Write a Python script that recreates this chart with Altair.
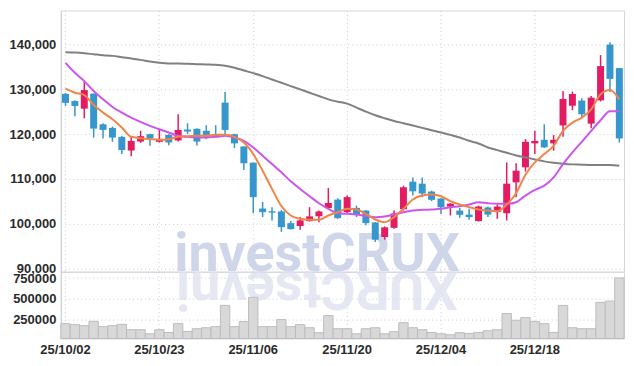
import altair as alt
import pandas as pd

# ---------------- data ----------------
dates = ["25/10/02", "25/10/10", "25/10/13", "25/10/14", "25/10/15", "25/10/16", "25/10/17",
         "25/10/20", "25/10/21", "25/10/22", "25/10/23", "25/10/24", "25/10/27", "25/10/28",
         "25/10/29", "25/10/30", "25/10/31", "25/11/03", "25/11/04", "25/11/05", "25/11/06",
         "25/11/07", "25/11/10", "25/11/11", "25/11/12", "25/11/13", "25/11/14", "25/11/17",
         "25/11/18", "25/11/19", "25/11/20", "25/11/21", "25/11/24", "25/11/25", "25/11/26",
         "25/11/27", "25/11/28", "25/12/01", "25/12/02", "25/12/03", "25/12/04", "25/12/05",
         "25/12/08", "25/12/09", "25/12/10", "25/12/11", "25/12/12", "25/12/15", "25/12/16",
         "25/12/17", "25/12/18", "25/12/19", "25/12/22", "25/12/23", "25/12/24", "25/12/26",
         "25/12/29", "25/12/30", "26/01/02", "26/01/05"]

opens = [129000, 127400, 125700, 129050, 122200, 121400, 119400, 116350, 118350, 120000,
         118300, 119850, 118600, 121050, 121200, 120750, 120000, 127050, 120000, 117250,
         113650, 103400, 102800, 102750, 100150, 99500, 100600, 101700, 103500, 105400,
         102600, 103550, 102950, 100300, 97050, 99100, 103250, 109400, 108950, 107200,
         105650, 103850, 102950, 102050, 100600, 103650, 102600, 102350, 109250, 112600,
         117950, 118750, 117950, 121950, 126350, 127500, 122350, 127550, 140000, 134750]
highs = [129200, 127600, 131700, 129100, 122450, 121700, 119600, 119400, 120750, 120100,
         121100, 120000, 124450, 122450, 121300, 122000, 122000, 129400, 120100, 117300,
         113700, 104900, 103700, 103100, 100600, 101500, 103700, 102950, 108000, 105700,
         106300, 104050, 103000, 100400, 99400, 102950, 108500, 110350, 110350, 107400,
         105700, 104600, 103550, 103350, 104050, 103850, 104300, 113700, 113500, 118900,
         120750, 122200, 119800, 129650, 129500, 128000, 128500, 137650, 140500, 134800]
lows = [126300, 124000, 123550, 119250, 119050, 118300, 115550, 115100, 118050, 117400,
        118150, 117550, 118350, 120000, 117500, 118900, 119400, 120000, 116900, 112000,
        102350, 101500, 100750, 98200, 98700, 98650, 100500, 100350, 103350, 101100,
        102200, 101500, 99650, 95950, 96450, 98900, 102950, 106300, 105950, 105050,
        102200, 101850, 101350, 100900, 100500, 101500, 101100, 100750, 105950, 111650,
        115550, 116900, 116300, 119400, 125350, 123550, 121350, 127300, 129400, 118150]
closes = [127000, 126300, 129850, 121250, 120950, 119250, 116450, 118500, 119550, 119050,
          118950, 118150, 120950, 120600, 118350, 119400, 119550, 120950, 117950, 113500,
          105950, 102600, 102500, 99250, 98800, 100750, 101650, 102750, 104650, 101250,
          105950, 102050, 100150, 96450, 99200, 102300, 108150, 107250, 106750, 105350,
          103700, 104500, 102000, 101500, 103850, 102050, 103850, 108950, 111850, 118300,
          118500, 117050, 118750, 127850, 128950, 124450, 128150, 135200, 132350, 119050]
volumes = [201000, 189000, 177000, 229000, 165000, 177000, 193000, 128000, 128000, 79000,
           128000, 95000, 201000, 107000, 140000, 152000, 165000, 421000, 165000, 226000,
           518000, 165000, 165000, 250000, 165000, 189000, 152000, 92000, 299000, 140000,
           140000, 79000, 140000, 152000, 79000, 104000, 213000, 152000, 128000, 95000,
           79000, 67000, 92000, 83000, 95000, 116000, 128000, 323000, 242000, 274000,
           226000, 201000, 95000, 421000, 152000, 140000, 140000, 457000, 473000, 752000]
ma5 = [130150, 129260, 128740, 126520, 124820, 123330, 121480, 119410, 119110, 118890,
       118740, 118890, 119410, 119560, 119630, 119630, 119850, 119850, 119410, 118150,
       115560, 111850, 107780, 103930, 101850, 101110, 100890, 100890, 101850, 102590,
       103330, 103190, 102220, 100960, 100370, 101480, 103330, 105410, 106300, 106520,
       106150, 105040, 104300, 103710, 103190, 102960, 102820, 104300, 106820, 110960,
       113700, 115560, 117410, 120740, 122590, 123700, 125560, 128890, 129850, 127780]
ma10 = [135930, 133700, 131850, 129630, 127780, 126080, 124820, 123700, 122740, 121850,
        121110, 120370, 119630, 119410, 119260, 119260, 119410, 119630, 119260, 118520,
        117040, 115190, 113330, 111480, 109480, 107780, 106150, 104590, 103330, 102370,
        102220, 102080, 101710, 101480, 101630, 102080, 102590, 102960, 103110, 103190,
        103330, 103710, 103930, 104300, 104820, 104590, 104450, 104450, 104820, 106300,
        107560, 108520, 110370, 113330, 115930, 118300, 120740, 123110, 125110, 125110]
ma60 = [138300, 138220, 138070, 137850, 137630, 137480, 137190, 136890, 136590, 136220,
        135930, 135780, 135780, 135700, 135630, 135560, 135480, 135260, 134810, 134220,
        133630, 132960, 132220, 131480, 130740, 130000, 129260, 128520, 127780, 127260,
        126820, 125930, 125040, 124220, 123560, 122960, 122450, 121930, 121410, 120890,
        120370, 119850, 119260, 118520, 117930, 117040, 116450, 115850, 115260, 114820,
        114370, 113930, 113630, 113410, 113260, 113190, 113110, 113110, 113110, 112960]

label_dates = ["25/10/02", "25/10/23", "25/11/06", "25/11/20", "25/12/04", "25/12/18"]
price_ticks = [90000, 100000, 110000, 120000, 130000, 140000]
volume_ticks = [250000, 500000, 750000]
watermark = "investCRUX"

# ---------------- styles ----------------
W, H_PRICE, H_VOL = 565, 262, 67
RED, BLUE = "#e31b63", "#3597cb"
GRID = "#c9cbdc"
LABEL_FONT = "Liberation Sans"
LABEL_SIZE = 13
LABEL_WEIGHT = 600

df = pd.DataFrame({"date": dates, "open": opens, "high": highs, "low": lows,
                   "close": closes, "volume": volumes})
df["dir"] = ["up" if c >= o else "down" for o, c in zip(opens, closes)]

x_scale = alt.Scale(domain=dates, paddingInner=0, paddingOuter=0)
price_scale = alt.Scale(domain=[89300, 147600], nice=False, zero=False)
vol_scale = alt.Scale(domain=[22000, 827000], nice=False, zero=False, clamp=True)

x_axis_price = alt.Axis(values=label_dates, labels=False, ticks=False, domain=False,
                        grid=True, gridDash=[1, 3], gridColor=GRID, bandPosition=0.5, title=None)
x_axis_vol = alt.Axis(values=label_dates, labels=True, ticks=False, domain=False,
                      grid=True, gridDash=[1, 3], gridColor=GRID, bandPosition=0.5, title=None,
                      labelAngle=0, labelFont=LABEL_FONT, labelFontSize=LABEL_SIZE,
                      labelFontWeight=LABEL_WEIGHT, labelColor="#2a2a2a", labelPadding=5)
y_common = dict(ticks=False, domain=True, domainColor="#cfcfd6", grid=True, gridDash=[1, 3],
                gridColor=GRID, title=None, labelFont=LABEL_FONT, labelFontSize=LABEL_SIZE,
                labelFontWeight=LABEL_WEIGHT, labelColor="#2a2a2a", labelPadding=5,
                minExtent=55, maxExtent=55)

color_scale = alt.Scale(domain=["up", "down"], range=[RED, BLUE])

base = alt.Chart(df)

wicks = base.mark_rule(strokeWidth=1.5).encode(
    x=alt.X("date:N", scale=x_scale, axis=x_axis_price, sort=dates),
    y=alt.Y("low:Q", scale=price_scale, axis=alt.Axis(values=price_ticks, format=",d", **y_common)),
    y2="high:Q",
    color=alt.Color("dir:N", scale=color_scale, legend=None),
)
bodies = base.mark_bar(size=7).encode(
    x=alt.X("date:N", scale=x_scale, sort=dates),
    y=alt.Y("open:Q", scale=price_scale),
    y2="close:Q",
    color=alt.Color("dir:N", scale=color_scale, legend=None),
)


def ma_line(values, col):
    d = pd.DataFrame({"date": dates, "value": values})
    return alt.Chart(d).mark_line(strokeWidth=2, interpolate="monotone", color=col).encode(
        x=alt.X("date:N", scale=x_scale, sort=dates),
        y=alt.Y("value:Q", scale=price_scale),
    )


line60 = ma_line(ma60, "#808080")
line10 = ma_line(ma10, "#cc55ee")
line5 = ma_line(ma5, "#ef8548")

# watermark text (decoration): per-character layout for the mirrored copy
adv = {"i": 0.26, "n": 0.55, "v": 0.49, "e": 0.53, "s": 0.52, "t": 0.33,
       "C": 0.65, "R": 0.63, "U": 0.64, "X": 0.63}
FS = 54
total = sum(adv[c] for c in watermark) * FS
cx = 257
start = cx - total / 2
pos, cum = [], 0.0
for ch in watermark:
    pos.append(start + (cum + adv[ch] / 2) * FS)
    cum += adv[ch]
wm_df = pd.DataFrame({"t": [watermark]})
refl_df = pd.DataFrame({"ch": list(watermark), "px": pos})

wm = alt.Chart(wm_df).mark_text(font="Roboto", fontWeight="bold", fontSize=FS, color="#c8cfe6",
                                opacity=0.85, align="center", baseline="alphabetic").encode(
    x=alt.value(cx), y=alt.value(H_PRICE - 0.5), text="t:N")

price = alt.layer(wm, wicks, bodies, line60, line10, line5).properties(width=W, height=H_PRICE)

refl = alt.Chart(refl_df).mark_text(font="Roboto", fontWeight="bold", fontSize=FS, color="#dde1ee",
                                    opacity=0.75, align="center", baseline="alphabetic",
                                    angle=180).encode(
    x=alt.X("px:Q", scale=None), y=alt.value(0.5), text="ch:N")

vol_bars = base.mark_bar(fill="#d8d8d8", stroke="#bdbdbd", strokeWidth=1).encode(
    x=alt.X("date:N", scale=x_scale, axis=x_axis_vol, sort=dates),
    y=alt.Y("volume:Q", scale=vol_scale, axis=alt.Axis(values=volume_ticks, format="d", **y_common)),
    y2=alt.datum(0),
)
volume = alt.layer(refl, vol_bars).properties(width=W, height=H_VOL)

chart = alt.vconcat(price, volume, spacing=0, bounds="flush").properties(
    padding={"left": 5, "top": 9, "right": 9, "bottom": 5},
    background="white",
).configure_view(stroke="#d6d6de")

chart.save("out.html", embed_options={"renderer": "svg", "actions": False})
